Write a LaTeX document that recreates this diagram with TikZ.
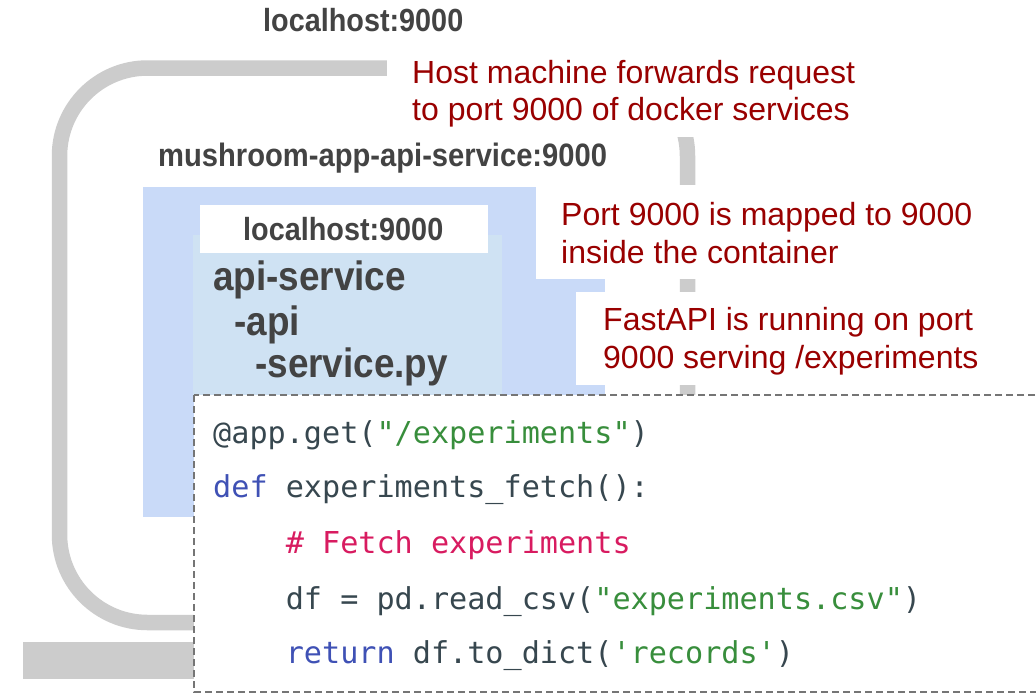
\documentclass[tikz,border=0pt]{standalone}
\usepackage{fontspec}
\setmainfont{Liberation Sans}
\newfontfamily\labfont{Liberation Sans}[FakeStretch=0.9]
\setmonofont{DejaVu Sans Mono}
\definecolor{brgrey}{HTML}{CCCCCC}
\definecolor{outerblue}{HTML}{C9DAF8}
\definecolor{innerblue}{HTML}{CFE2F3}
\definecolor{labc}{HTML}{434343}
\definecolor{notec}{HTML}{990000}
\definecolor{codec}{HTML}{37474F}
\definecolor{codeblue}{HTML}{3F51B5}
\definecolor{codegreen}{HTML}{388E3C}
\definecolor{codepink}{HTML}{D81B60}
\definecolor{dashc}{HTML}{757575}
\begin{document}
\begin{tikzpicture}[x=1pt,y=-1pt,
  lab/.style={font=\labfont\bfseries\fontsize{32}{38}\selectfont, text=labc, inner sep=0pt, anchor=base west},
  biglab/.style={font=\labfont\bfseries\fontsize{41}{46}\selectfont, text=labc, inner sep=0pt, anchor=base west},
  note/.style={font=\fontsize{32}{38}\selectfont, text=notec, inner sep=0pt, anchor=base west},
  codeline/.style={font=\ttfamily\fontsize{30.15}{36}\selectfont, text=codec, inner sep=0pt, anchor=base west},
  bracket/.style={draw=brgrey, line width=15.5pt, rounded corners=88pt},
  codebox/.style={fill=white, draw=dashc, line width=1.8pt, dash pattern=on 7pt off 4pt}
]
\useasboundingbox (0,0) rectangle (1036,694);
\fill[white] (0,0) rectangle (1036,694);
% grey frame and base
\draw[bracket] (59.5,68) rectangle (687.5,622.5);
\fill[brgrey] (23,642) rectangle (200,679);
% blue container areas
\fill[outerblue] (143,187) rectangle (605,517);
\fill[innerblue] (193,235) rectangle (502,400);
\fill[white] (200,205) rectangle (488,253);
% white backgrounds of notes
\fill[white] (387,45) rectangle (880,137);
\fill[white] (536,185) rectangle (1000,279);
\fill[white] (576,292) rectangle (1000,385);
% code box
\draw[codebox] (194,395) rectangle (1060,692);

% labels
\node[lab] (host) at (263,31) {localhost:9000};
\node[lab, font=\labfont\bfseries\fontsize{32.4}{38}\selectfont] (svc) at (158,166) {mushroom-app-api-service:9000};
\node[lab] (inhost) at (243,240) {localhost:9000};
\node[biglab] (t1) at (213,290) {api-service};
\node[biglab] (t2) at (234,335) {-api};
\node[biglab] (t3) at (255,377) {-service.py};

% notes
\node[note] (n1a) at (412,83) {Host machine forwards request};
\node[note] (n1b) at (412,120) {to port 9000 of docker services};
\node[note] (n2a) at (561,225) {Port 9000 is mapped to 9000};
\node[note] (n2b) at (561,263) {inside the container};
\node[note] (n3a) at (603,330) {FastAPI is running on port};
\node[note] (n3b) at (603,368) {9000 serving /experiments};

% code
\node[codeline] (c1) at (213,443) {@app.get(\textcolor{codegreen}{"/experiments"})};
\node[codeline] (c2) at (213,497) {\textcolor{codeblue}{def} experiments\_fetch():};
\node[codeline] (c3) at (285.6,553) {\textcolor{codepink}{\# Fetch experiments}};
\node[codeline] (c4) at (285.6,609) {df = pd.read\_csv(\textcolor{codegreen}{"experiments.csv"})};
\node[codeline] (c5) at (285.6,663) {\textcolor{codeblue}{return} df.to\_dict(\textcolor{codegreen}{'records'})};
\end{tikzpicture}
\end{document}
